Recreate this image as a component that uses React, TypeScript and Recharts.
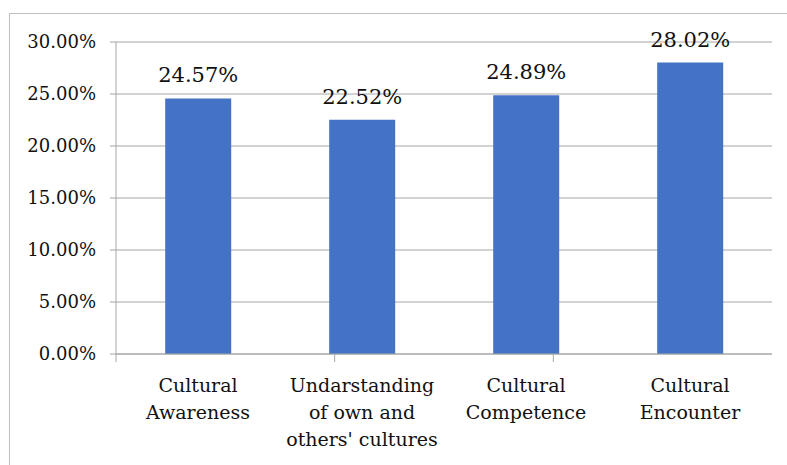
import React from "react";
import { BarChart, Bar, XAxis, YAxis, CartesianGrid, LabelList } from "recharts";

const categories = [
  "Cultural\nAwareness",
  "Undarstanding\nof own and\nothers' cultures",
  "Cultural\nCompetence",
  "Cultural\nEncounter",
];
const values = [24.57, 22.52, 24.89, 28.02];
const yTicks = [0, 5, 10, 15, 20, 25, 30];
const boundaryTicks = [0, 1, 2, 3, 4];

const data = categories.map((c, i) => ({ name: c, value: values[i] }));

const FONT = "'DejaVu Serif', serif";
const GRAY = "#a6a6a6";

const CatTick = (props: any) => {
  const { x, y, payload } = props;
  const lines = String(payload.value).split("\n");
  return (
    <text x={x} y={y} textAnchor="middle" fontFamily={FONT} fontSize={19} fill="#111">
      {lines.map((l, i) => (
        <tspan key={i} x={x} y={y + 37 + i * 27}>
          {l}
        </tspan>
      ))}
    </text>
  );
};

const EmptyTick = () => <g />;

export default function App() {
  return (
    <div
      style={{
        position: "absolute",
        left: 0,
        top: 0,
        width: 787,
        height: 465,
        overflow: "hidden",
        background: "#fff",
      }}
    >
      <div
        style={{
          position: "absolute",
          left: 9,
          top: 13,
          width: 900,
          height: 600,
          border: "1px solid #bfbfbf",
          boxSizing: "border-box",
        }}
      />
      <div style={{ position: "absolute", left: 0, top: 0 }}>
        <BarChart
          width={787}
          height={465}
          data={data}
          margin={{ top: 42, right: 15, bottom: 0, left: 0 }}
          barCategoryGap="30%"
        >
          <CartesianGrid xAxisId="cat" vertical={false} stroke={GRAY} />
          <XAxis
            xAxisId="a"
            type="number"
            domain={[0, 4]}
            ticks={boundaryTicks}
            height={1}
            tickSize={8}
            stroke={GRAY}
            axisLine={{ stroke: GRAY, strokeWidth: 1 }}
            tickLine={{ stroke: GRAY }}
            tick={<EmptyTick />}
          />
          <XAxis
            xAxisId="cat"
            dataKey="name"
            height={110}
            tickSize={0}
            tickMargin={0}
            axisLine={false}
            tickLine={false}
            interval={0}
            tick={<CatTick />}
          />
          <YAxis
            width={116}
            domain={[0, 30]}
            ticks={yTicks}
            tickSize={6}
            tickMargin={14}
            stroke={GRAY}
            axisLine={{ stroke: GRAY, strokeWidth: 1 }}
            tickLine={{ stroke: GRAY }}
            tick={{ fontFamily: FONT, fontSize: 18, fill: "#111" }}
            tickFormatter={(v: number) => v.toFixed(2) + "%"}
          />
          <Bar xAxisId="cat" dataKey="value" fill="#4472C4" isAnimationActive={false}>
            <LabelList
              dataKey="value"
              position="top"
              offset={16}
              fontFamily={FONT}
              fontSize={21}
              fill="#111"
              formatter={(v: any) => Number(v).toFixed(2) + "%"}
            />
          </Bar>
        </BarChart>
      </div>
    </div>
  );
}
